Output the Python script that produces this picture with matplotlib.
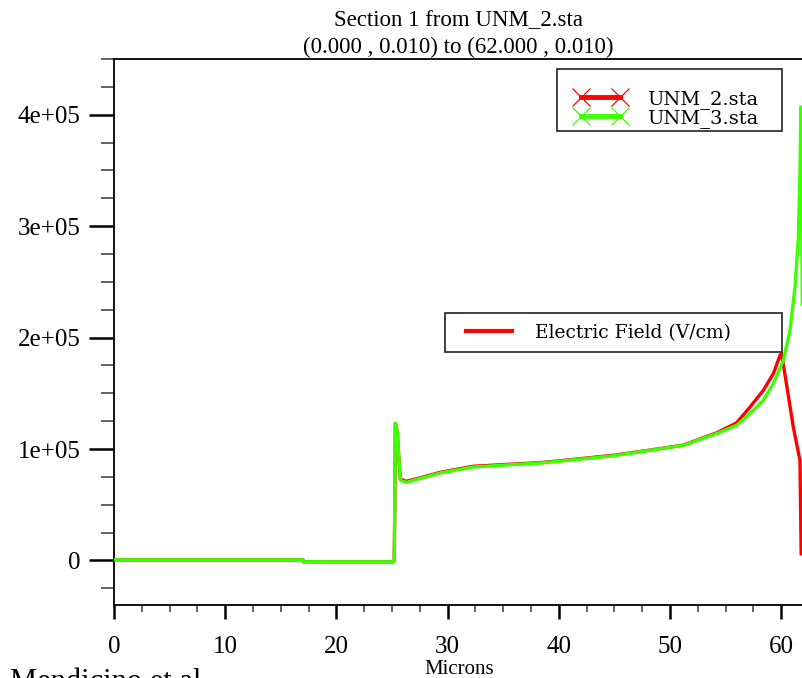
import matplotlib
matplotlib.use("Agg")
import matplotlib.pyplot as plt
from matplotlib.lines import Line2D
from matplotlib.legend_handler import HandlerLine2D
from matplotlib.ticker import MultipleLocator

# Electric field cut along section 1, two simulation states (values in 1e5 V/cm)
x_unm3 = [0, 17, 17.01, 25.15, 25.2, 25.25, 25.3, 25.4, 25.5, 25.6, 25.75, 26.3,
          27.5, 29.3, 32.3, 35, 38.3, 40, 45, 48.2, 51.2, 54.2, 56.0, 57.2, 58.4,
          59.3, 60.2, 60.43, 60.8, 61.24, 61.54, 61.69, 61.78, 61.9]
e_unm3 = [0.005, 0.005, -0.012, -0.012, 0.0, 0.45, 1.23, 1.20, 1.13, 0.95, 0.72, 0.70,
          0.734, 0.784, 0.838, 0.855, 0.874, 0.89, 0.94, 0.988, 1.033, 1.138, 1.213, 1.318, 1.437,
          1.588, 1.797, 1.90, 2.07, 2.45, 2.88, 3.48, 4.07, 2.3]

x_unm2 = [0, 17, 17.01, 25.15, 25.2, 25.25, 25.3, 25.4, 25.5, 25.6, 25.75, 26.3,
          27.5, 29.3, 32.3, 35, 38.3, 40, 45, 48.2, 51.2, 54.2, 56.0, 57.2, 58.4,
          59.3, 59.9, 60.04, 61.09, 61.69, 61.8]
e_unm2 = [0.005, 0.005, -0.012, -0.012, 0.0, 0.45, 1.23, 1.20, 1.10, 0.95, 0.73, 0.71,
          0.74, 0.79, 0.845, 0.86, 0.878, 0.893, 0.945, 0.99, 1.035, 1.145, 1.235, 1.377, 1.527,
          1.677, 1.842, 1.857, 1.198, 0.898, 0.06]

yticks = [0, 1e5, 2e5, 3e5, 4e5]
ytick_labels = ["0", "1e+05", "2e+05", "3e+05", "4e+05"]
xticks = [0, 10, 20, 30, 40, 50, 60]

red = "#ff0000"
green = "#3cff00"
serif = "Liberation Serif"

fig = plt.figure(figsize=(8.02, 6.78), dpi=100)
ax = fig.add_axes([114 / 802, 73 / 678, 689.4 / 802, 546 / 678])

ax.plot(x_unm2, [v * 1e5 for v in e_unm2], color=red, lw=2.4, zorder=3)
ax.plot(x_unm3, [v * 1e5 for v in e_unm3], color=green, lw=2.4, zorder=4)

ax.set_xlim(0, 62)
ax.set_ylim(-0.40e5, 4.5e5)

ax.spines["right"].set_visible(False)
for s in ("left", "top", "bottom"):
    ax.spines[s].set_linewidth(1.3)

ax.set_xticks(xticks)
ax.set_xticklabels([str(t) for t in xticks], fontfamily=serif, fontsize=18)
ax.set_yticks(yticks)
ax.set_yticklabels(ytick_labels, fontfamily=serif, fontsize=18)
ax.xaxis.set_minor_locator(MultipleLocator(2.5))
ax.yaxis.set_minor_locator(MultipleLocator(0.25e5))

ax.tick_params(axis="y", which="major", direction="out", length=18, width=1.8, pad=6)
ax.tick_params(axis="y", which="minor", direction="out", length=9.5, width=1.3, color="#555555")
ax.tick_params(axis="x", which="major", direction="out", length=10, width=1.8, pad=12)
ax.tick_params(axis="x", which="minor", direction="out", length=5, width=1.3, color="#555555")

ax.set_xlabel("Microns", fontfamily=serif, fontsize=15)
ax.xaxis.set_label_coords(0.5, -0.101)
ax.xaxis.label.set_va("top")

ax.set_title("Section 1 from UNM_2.sta\n(0.000 , 0.010) to (62.000 , 0.010)",
             fontfamily=serif, fontsize=16.5, linespacing=1.4, pad=4)

# file legend: blank title leaves the gap above the entries
handles = [Line2D([], [], color=red, lw=3.5, marker="x", ms=13, mew=0.9),
           Line2D([], [], color=green, lw=3.5, marker="x", ms=13, mew=0.9)]
leg1 = ax.legend(handles, ["UNM_2.sta", "UNM_3.sta"], numpoints=2,
                 title=" ", title_fontsize=13,
                 loc="lower left", mode="expand",
                 bbox_to_anchor=(557 / 802, 1 - 131 / 678, 225 / 802, 62 / 678),
                 bbox_transform=fig.transFigure, borderaxespad=0,
                 handler_map={h: HandlerLine2D(xpad=0.8) for h in handles},
                 prop={"family": "DejaVu Serif", "size": 14},
                 handlelength=3.4, handletextpad=1.08, labelspacing=0.0,
                 borderpad=0.15, fancybox=False, framealpha=1, edgecolor="#333333")
leg1.get_frame().set_linewidth(1.3)
ax.add_artist(leg1)

# quantity legend
field_handle = Line2D([], [], color=red, lw=3)
leg2 = ax.legend([field_handle], ["Electric Field (V/cm)"],
                 loc="lower left", mode="expand",
                 bbox_to_anchor=(445 / 802, 1 - 352 / 678, 337 / 802, 40 / 678),
                 bbox_transform=fig.transFigure, borderaxespad=0,
                 handler_map={field_handle: HandlerLine2D(xpad=0.57)},
                 prop={"family": "DejaVu Serif", "size": 13.5},
                 handlelength=3.02, handletextpad=1.23, borderpad=0.55,
                 fancybox=False, framealpha=1, edgecolor="#333333")
leg2.get_frame().set_linewidth(1.3)

fig.text(10 / 802, (678 - 690) / 678, "Mendicino et al.", fontfamily=serif,
         fontsize=22, va="baseline", ha="left")

fig.savefig("out.png", dpi=100)
